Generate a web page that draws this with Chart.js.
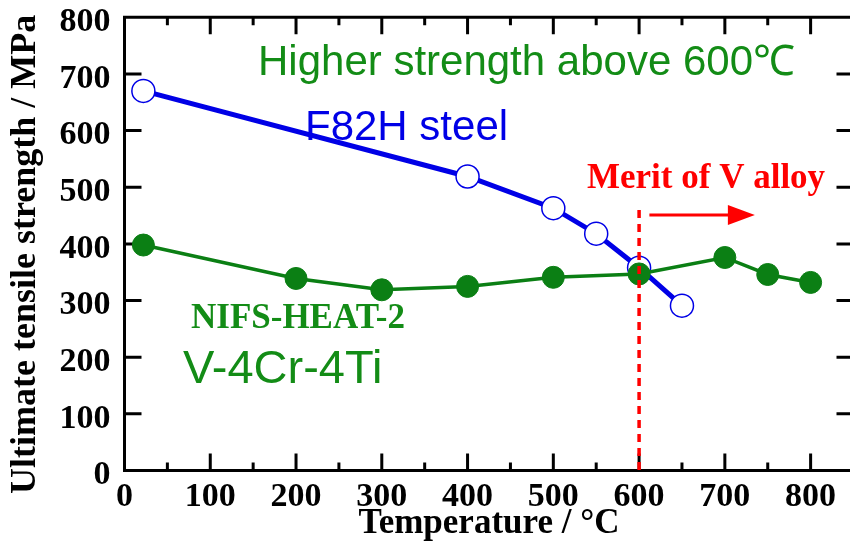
<!DOCTYPE html>
<html>
<head>
<meta charset="utf-8">
<script src="https://cdn.jsdelivr.net/npm/chart.js@4.4.1/dist/chart.umd.min.js"></script>
<style>
  html, body { margin: 0; padding: 0; background: #fff; overflow: hidden; }
  #wrap { width: 850px; height: 545px; overflow: hidden; position: relative; }
  canvas { display: block; }
</style>
</head>
<body>
<div id="wrap"><canvas id="c" width="856" height="545"></canvas></div>
<script>
// Ultimate tensile strength vs. test temperature
const f82hTemperature = [22, 400, 500, 550, 600, 650];
const f82hStrength    = [670, 519, 463, 418, 358, 291];

const vAlloyTemperature = [22, 200, 300, 400, 500, 600, 700, 750, 800];
const vAlloyStrength    = [398, 339, 319, 325, 341, 347, 376, 346, 332];

const xTickValues = [0, 100, 200, 300, 400, 500, 600, 700, 800];
const yTickValues = [0, 100, 200, 300, 400, 500, 600, 700, 800];

const BLUE = '#0000e6';
const GREEN = '#0b7f14';
const TEXT_GREEN = '#138c16';
const RED = '#ff0000';
const SERIF = '"Liberation Serif", "Times New Roman", serif';
const SANS = '"Liberation Sans", Arial, sans-serif';

const toPoints = (xs, ys) => xs.map((x, i) => ({ x: x, y: ys[i] }));

// keep the plot box fixed: no extra room reserved for half-labels
const noEdgePadding = s => {
  s.paddingTop = 0;
  s.paddingBottom = 0;
  s.paddingLeft = 0;
  s.paddingRight = 0;
};

// Boxed frame with inward ticks on all four sides, plus annotations
const framePlugin = {
  id: 'frame',
  beforeDatasetsDraw(chart) {
    const { ctx, chartArea: a, scales: { x, y } } = chart;
    ctx.save();
    ctx.strokeStyle = '#000';
    ctx.lineWidth = 3;
    ctx.lineCap = 'butt';
    ctx.beginPath();
    ctx.moveTo(a.left, a.top);
    ctx.lineTo(a.right, a.top);
    ctx.moveTo(a.left, a.bottom);
    ctx.lineTo(a.right, a.bottom);
    ctx.moveTo(a.left, a.top - 1.5);
    ctx.lineTo(a.left, a.bottom + 1.5);
    ctx.moveTo(a.right, a.top - 1.5);
    ctx.lineTo(a.right, a.bottom + 1.5);
    // x ticks: majors every 100, minors at the 50s
    for (let v = 50; v <= 850; v += 50) {
      const px = x.getPixelForValue(v);
      const len = v % 100 === 0 ? 17 : 8;
      ctx.moveTo(px, a.bottom);
      ctx.lineTo(px, a.bottom - len);
      ctx.moveTo(px, a.top);
      ctx.lineTo(px, a.top + len);
    }
    // y ticks: majors every 100
    yTickValues.forEach(v => {
      if (v === 0 || v === 800) return;
      const py = y.getPixelForValue(v);
      ctx.moveTo(a.left, py);
      ctx.lineTo(a.left + 17, py);
      ctx.moveTo(a.right, py);
      ctx.lineTo(a.right - 17, py);
    });
    ctx.stroke();
    ctx.restore();
  },
  afterDatasetsDraw(chart) {
    const { ctx, chartArea: a, scales: { x, y } } = chart;
    ctx.save();

    // dashed marker at 600 °C
    const x600 = x.getPixelForValue(600);
    ctx.strokeStyle = RED;
    ctx.lineWidth = 3.5;
    ctx.setLineDash([8, 6]);
    ctx.beginPath();
    ctx.moveTo(x600, y.getPixelForValue(460));
    ctx.lineTo(x600, a.bottom);
    ctx.stroke();
    ctx.setLineDash([]);

    // arrow pointing to higher temperature
    const ay = y.getPixelForValue(451);
    const ax0 = x.getPixelForValue(612);
    const ax1 = x.getPixelForValue(735);
    const headLen = 27;
    ctx.lineWidth = 3;
    ctx.beginPath();
    ctx.moveTo(ax0, ay);
    ctx.lineTo(ax1 - headLen + 2, ay);
    ctx.stroke();
    ctx.fillStyle = RED;
    ctx.beginPath();
    ctx.moveTo(ax1, ay);
    ctx.lineTo(ax1 - headLen, ay - 10);
    ctx.lineTo(ax1 - headLen, ay + 10);
    ctx.closePath();
    ctx.fill();

    // labels
    ctx.textAlign = 'left';
    ctx.textBaseline = 'alphabetic';

    ctx.fillStyle = TEXT_GREEN;
    ctx.font = '42px ' + SANS;
    ctx.fillText('Higher strength above 600\u2103', 258, 75);

    ctx.fillStyle = BLUE;
    ctx.font = '42px ' + SANS;
    ctx.fillText('F82H steel', 305, 140);

    ctx.fillStyle = RED;
    ctx.font = 'bold 35px ' + SERIF;
    ctx.fillText('Merit of V alloy', 587, 188);

    ctx.fillStyle = TEXT_GREEN;
    ctx.font = 'bold 35px ' + SERIF;
    ctx.fillText('NIFS-HEAT-2', 191, 328);

    ctx.font = '47px ' + SANS;
    ctx.fillText('V-4Cr-4Ti', 183, 383);

    // vertical axis title
    ctx.fillStyle = '#000';
    ctx.font = 'bold 36px ' + SERIF;
    ctx.translate(35, 494);
    ctx.rotate(-Math.PI / 2);
    ctx.fillText('Ultimate tensile strength / MPa', 0, 0);

    ctx.restore();
  }
};

new Chart(document.getElementById('c'), {
  type: 'scatter',
  data: {
    datasets: [
      {
        label: 'NIFS-HEAT-2 V-4Cr-4Ti',
        data: toPoints(vAlloyTemperature, vAlloyStrength),
        showLine: true,
        borderColor: GREEN,
        borderWidth: 3.5,
        backgroundColor: GREEN,
        pointBackgroundColor: GREEN,
        pointBorderColor: GREEN,
        pointBorderWidth: 1,
        pointRadius: 11,
        tension: 0
      },
      {
        label: 'F82H steel',
        data: toPoints(f82hTemperature, f82hStrength),
        showLine: true,
        borderColor: BLUE,
        borderWidth: 5,
        backgroundColor: '#fff',
        pointBackgroundColor: '#fff',
        pointBorderColor: BLUE,
        pointBorderWidth: 1.5,
        pointRadius: 11.5,
        tension: 0
      }
    ]
  },
  options: {
    responsive: false,
    animation: false,
    devicePixelRatio: 1,
    layout: { autoPadding: false, padding: { top: 17.3, right: 2.5, left: 0, bottom: 0 } },
    plugins: { legend: { display: false }, tooltip: { enabled: false } },
    scales: {
      x: {
        type: 'linear',
        min: 0,
        max: 850,
        afterBuildTicks: s => { s.ticks = xTickValues.map(v => ({ value: v })); },
        afterFit: s => { s.height = 74.5; noEdgePadding(s); },
        grid: { display: false, drawTicks: false },
        border: { display: false },
        ticks: {
          color: '#000',
          padding: 6,
          maxRotation: 0,
          autoSkip: false,
          font: { family: SERIF, size: 34, weight: 'bold' }
        },
        title: {
          display: true,
          text: 'Temperature / \u00B0C',
          color: '#000',
          padding: { top: 0, bottom: 0 },
          font: { family: SERIF, size: 35, weight: 'bold' }
        }
      },
      y: {
        type: 'linear',
        min: 0,
        max: 800,
        afterBuildTicks: s => { s.ticks = yTickValues.map(v => ({ value: v })); },
        afterFit: s => { s.width = 124.5; noEdgePadding(s); },
        grid: { display: false, drawTicks: false },
        border: { display: false },
        ticks: {
          color: '#000',
          padding: 14,
          labelOffset: 5,
          autoSkip: false,
          font: { family: SERIF, size: 34, weight: 'bold' }
        },
        title: { display: false }
      }
    }
  },
  plugins: [framePlugin]
});
</script>
</body>
</html>
